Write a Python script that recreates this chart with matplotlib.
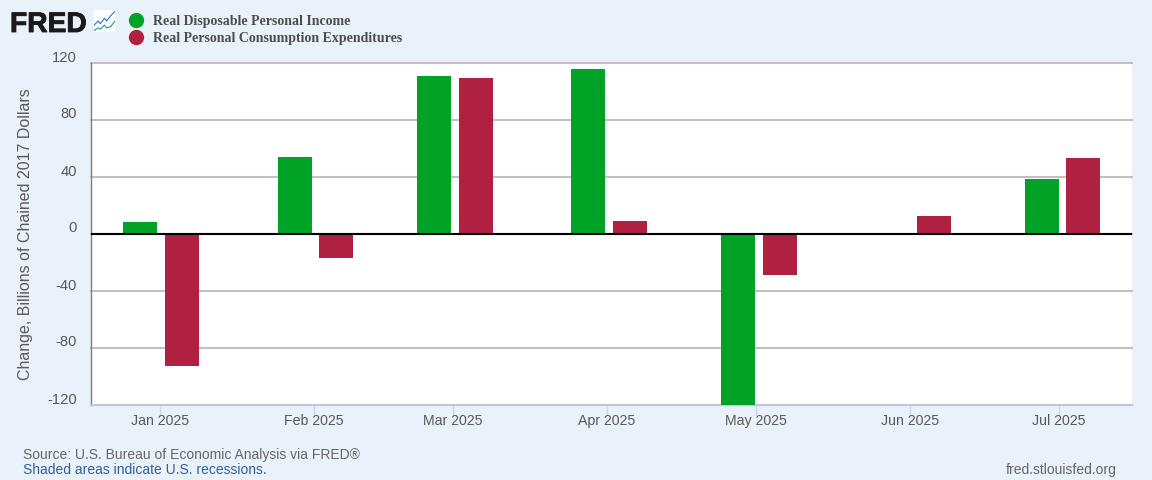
import matplotlib
matplotlib.use('Agg')
import matplotlib.pyplot as plt
import matplotlib.dates as mdates
import matplotlib.patheffects as pe
from matplotlib.lines import Line2D
from matplotlib.transforms import ScaledTranslation
from datetime import date

months = ['2025-01-01', '2025-02-01', '2025-03-01', '2025-04-01', '2025-05-01', '2025-06-01', '2025-07-01']
month_labels = ['Jan 2025', 'Feb 2025', 'Mar 2025', 'Apr 2025', 'May 2025', 'Jun 2025', 'Jul 2025']
income = [8.5, 54, 111, 116, -135, 0, 38.5]
consumption = [-92.5, -17, 109.5, 9, -29, 12.5, 53]
y_ticks = [-120, -80, -40, 0, 40, 80, 120]

green = '#00a326'
red = '#b02041'
bg = '#e9f1fa'
grid_col = '#c0c0c0'
text_col = '#595959'

plt.rcParams['font.family'] = ['Liberation Sans', 'DejaVu Sans']
plt.rcParams['axes.unicode_minus'] = False

W, H = 1152, 480
fig = plt.figure(figsize=(11.52, 4.8), dpi=100, facecolor=bg)
ax = fig.add_axes([91 / W, 1 - 405 / H, (1132 - 91) / W, (405 - 63) / H])

x = [mdates.date2num(date.fromisoformat(m)) for m in months]

# bars sit either side of the month tick, and drift a little right of it over the year
drift = [0.2, 0.3, 0.4, 0.4, 0.6, 0.6, 0.7]
offset = 4.2
ax.bar([v + d - offset for v, d in zip(x, drift)], income, width=6.85, color=green, zorder=3)
ax.bar([v + d + offset for v, d in zip(x, drift)], consumption, width=6.85, color=red, zorder=3)

ax.set_xlim(x[0] - 13.9, x[-1] + 14.7)
ax.set_ylim(-120, 120)
ax.set_xticks(x)
ax.set_xticklabels(month_labels)
ax.set_yticks(y_ticks)
ax.tick_params(axis='x', length=7, width=1, color='#ccd6eb', labelsize=10.2,
               labelcolor=text_col, pad=-0.5)
ax.tick_params(axis='y', length=0, labelsize=10.6, labelcolor=text_col, pad=10)
nudge = ScaledTranslation(0, -1.5 / 100, fig.dpi_scale_trans)
for lab in ax.get_yticklabels():
    lab.set_verticalalignment('bottom')
    lab.set_transform(lab.get_transform() + nudge)

ax.grid(axis='y', color=grid_col, linewidth=1.5, zorder=1)
for line in ax.get_ygridlines():
    line.set_clip_on(False)
ax.axhline(0, color='black', linewidth=1.5, zorder=4)
for side in ['top', 'right']:
    ax.spines[side].set_visible(False)
ax.spines['left'].set_color('#7f7f7f')
ax.spines['left'].set_linewidth(1)
ax.spines['bottom'].set_color('#c0c8d8')
ax.spines['bottom'].set_linewidth(1.5)
ax.set_ylabel('Change, Billions of Chained 2017 Dollars', fontsize=11.5, color=text_col)
ax.yaxis.set_label_coords((33 - 91) / (1132 - 91), 0.5)

# legend
handles = [Line2D([], [], marker='o', linestyle='none', color=green, markersize=10),
           Line2D([], [], marker='o', linestyle='none', color=red, markersize=10)]
leg = fig.legend(handles, ['Real Disposable Personal Income', 'Real Personal Consumption Expenditures'],
                 loc='upper left', bbox_to_anchor=(122.5 / W, 1 - 15 / H), frameon=False,
                 labelspacing=0.26, handletextpad=0.2, borderpad=0, borderaxespad=0,
                 prop={'family': 'Liberation Serif', 'weight': 'bold', 'size': 10})
for t in leg.get_texts():
    t.set_color('#4d4d4d')

# FRED logo and little chart icon
logo = fig.text(10 / W, 1 - 32 / H, 'FRED', fontsize=20.3, fontweight='bold', color='#1a1a1a', va='baseline')
logo.set_path_effects([pe.withStroke(linewidth=0.6, foreground='#1a1a1a')])
icon = fig.add_axes([94 / W, 1 - 32 / H, 21 / W, 22 / H], facecolor='white')
icon.plot([0, 2, 3, 5, 6, 8, 10], [5, 8, 6, 10, 8, 12, 15], color='#2a6fdb', linewidth=0.8)
icon.plot([0, 2, 3, 5, 6, 8, 10], [1, 3, 2, 5, 3, 4, 8], color='#1a9c78', linewidth=0.8)
icon.set_xlim(0, 10)
icon.set_ylim(0, 16)
icon.set_xticks([])
icon.set_yticks([])
for s in icon.spines.values():
    s.set_visible(False)

# footer
fig.text(23 / W, 1 - 455 / H, 'Source: U.S. Bureau of Economic Analysis via FRED®', fontsize=10.03,
         color='#666666', va='center')
fig.text(23 / W, 1 - 470 / H, 'Shaded areas indicate U.S. recessions.', fontsize=10,
         color='#336099', va='center')
fig.text(1117 / W, 1 - 470 / H, 'fred.stlouisfed.org', fontsize=10, color='#666666', va='center', ha='right')

fig.savefig('out.png', dpi=100, facecolor=bg)
